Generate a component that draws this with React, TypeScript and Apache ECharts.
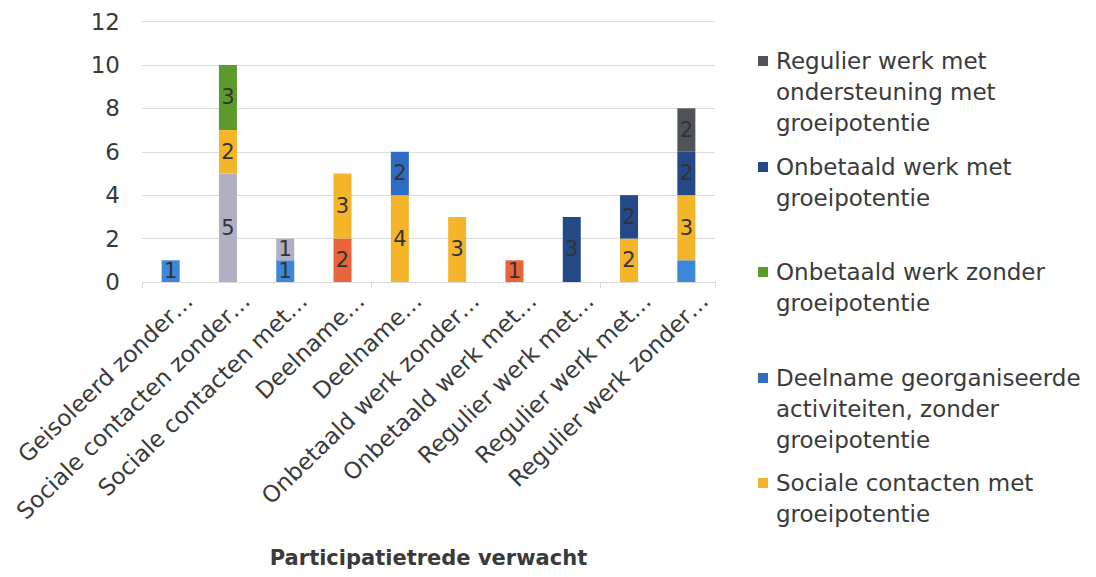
import React, { useEffect, useRef } from "react";
import * as echarts from "echarts";

const categories = [
  "Geisoleerd zonder…",
  "Sociale contacten zonder…",
  "Sociale contacten met…",
  "Deelname…",
  "Deelname…",
  "Onbetaald werk zonder…",
  "Onbetaald werk met…",
  "Regulier werk met…",
  "Regulier werk met…",
  "Regulier werk zonder…",
];

const seriesNames = [
  "Geisoleerd zonder groeipotentie",
  "Deelname georganiseerde activiteiten, met groeipotentie",
  "Sociale contacten zonder groeipotentie",
  "Sociale contacten met groeipotentie",
  "Deelname georganiseerde activiteiten, zonder groeipotentie",
  "Onbetaald werk zonder groeipotentie",
  "Onbetaald werk met groeipotentie",
  "Regulier werk met ondersteuning met groeipotentie",
];

const valuesGeisoleerd = [1, 0, 1, 0, 0, 0, 0, 0, 0, 1];
const valuesDeelnameMet = [0, 0, 0, 2, 0, 0, 1, 0, 0, 0];
const valuesSocialeZonder = [0, 5, 1, 0, 0, 0, 0, 0, 0, 0];
const valuesSocialeMet = [0, 2, 0, 3, 4, 3, 0, 0, 2, 3];
const valuesDeelnameZonder = [0, 0, 0, 0, 2, 0, 0, 0, 0, 0];
const valuesOnbetaaldZonder = [0, 3, 0, 0, 0, 0, 0, 0, 0, 0];
const valuesOnbetaaldMet = [0, 0, 0, 0, 0, 0, 0, 3, 2, 2];
const valuesRegulierOnd = [0, 0, 0, 0, 0, 0, 0, 0, 0, 2];

const allValues = [
  valuesGeisoleerd,
  valuesDeelnameMet,
  valuesSocialeZonder,
  valuesSocialeMet,
  valuesDeelnameZonder,
  valuesOnbetaaldZonder,
  valuesOnbetaaldMet,
  valuesRegulierOnd,
];

// [series index, category index] of segments without a data label
const unlabeled = [[0, 9]];

const yTicks = [0, 2, 4, 6, 8, 10, 12];

const colors = [
  "#3d86d8",
  "#e8643a",
  "#b0b0c2",
  "#f5b52a",
  "#2f6cc4",
  "#5c9a2c",
  "#234a86",
  "#505458",
];

const legendLabels: Record<string, string> = {
  "Regulier werk met ondersteuning met groeipotentie":
    "Regulier werk met\nondersteuning met\ngroeipotentie",
  "Onbetaald werk met groeipotentie": "Onbetaald werk met\ngroeipotentie",
  "Onbetaald werk zonder groeipotentie": "Onbetaald werk zonder\ngroeipotentie",
  "Deelname georganiseerde activiteiten, zonder groeipotentie":
    "Deelname georganiseerde\nactiviteiten, zonder\ngroeipotentie",
  "Sociale contacten met groeipotentie": "Sociale contacten met\ngroeipotentie",
};
const legendOrder = [7, 6, 5, 4, 3];
const legendCenters = [61, 167, 272, 378, 483];

const FONT = "DejaVu Sans";
const TEXT = "#3a3a3a";
const LINE_H = 31;

export default function App() {
  const ref = useRef<HTMLDivElement>(null);
  useEffect(() => {
    if (!ref.current) return;
    const chart = echarts.init(ref.current, null, { renderer: "svg" });

    const series = allValues.map((vals, si) => ({
      name: seriesNames[si],
      type: "bar",
      stack: "total",
      barWidth: 18,
      itemStyle: { color: colors[si] },
      label: {
        show: true,
        position: "inside",
        fontFamily: FONT,
        fontSize: 21,
        lineHeight: 19,
        color: "#333333",
        formatter: (p: any) => String(p.value),
      },
      data: vals.map((v, ci) => {
        if (!v) return "-";
        const hide = unlabeled.some(([s, c]) => s === si && c === ci);
        return hide ? { value: v, label: { show: false } } : v;
      }),
    }));

    const legends = legendOrder.map((si, k) => {
      const name = seriesNames[si];
      const lines = legendLabels[name].split("\n").length;
      const h = lines * LINE_H;
      const sq0 = LINE_H / 2 - 5;
      const sq1 = LINE_H / 2 + 5;
      const icon = `path://M0 0L10 0L10 0Z M0 ${sq0}L10 ${sq0}L10 ${sq1}L0 ${sq1}Z M0 ${h}L10 ${h}L10 ${h}Z`;
      return {
        orient: "vertical",
        left: 758,
        top: legendCenters[k] - LINE_H / 2,
        padding: 0,
        icon,
        itemWidth: 10,
        itemHeight: h,
        selectedMode: false,
        data: [name],
        formatter: (n: string) => legendLabels[n] || n,
        textStyle: {
          fontFamily: FONT,
          fontSize: 23,
          color: TEXT,
          lineHeight: LINE_H,
          padding: [0, 0, 0, 3],
        },
      };
    });

    chart.setOption({
      animation: false,
      backgroundColor: "#ffffff",
      grid: [
        { left: 142, right: 381, top: 21.5, bottom: 295, containLabel: false },
        { left: 160, right: 363, top: 21.5, bottom: 295, containLabel: false },
      ],
      legend: legends,
      xAxis: [
        {
          type: "category",
          gridIndex: 0,
          data: categories,
          axisLine: { lineStyle: { color: "#d9d9d9", width: 1 } },
          axisTick: { show: true, length: 6, lineStyle: { color: "#d9d9d9" } },
          axisLabel: { show: false },
          name: "Participatietrede verwacht",
          nameLocation: "middle",
          nameGap: 265,
          nameTextStyle: {
            fontFamily: FONT,
            fontSize: 21,
            fontWeight: "bold",
            color: TEXT,
          },
        },
        {
          type: "category",
          gridIndex: 1,
          data: categories,
          axisLine: { show: false },
          axisTick: { show: false },
          axisLabel: {
            show: true,
            interval: 0,
            rotate: 44,
            margin: 15,
            fontFamily: FONT,
            fontSize: 23,
            color: TEXT,
          },
        },
      ],
      yAxis: [
        {
          type: "value",
          gridIndex: 0,
          min: yTicks[0],
          max: yTicks[yTicks.length - 1],
          interval: 2,
          axisLine: { show: false },
          axisTick: { show: false },
          splitLine: { lineStyle: { color: "#dcdcdc", width: 1 } },
          axisLabel: {
            fontFamily: FONT,
            fontSize: 23,
            color: TEXT,
            margin: 22,
          },
        },
        { type: "value", gridIndex: 1, min: 0, max: 1, show: false },
      ],
      series,
    });
    return () => chart.dispose();
  }, []);
  return (
    <div
      ref={ref}
      style={{ position: "fixed", left: 0, top: 0, width: 1096, height: 577 }}
    />
  );
}
